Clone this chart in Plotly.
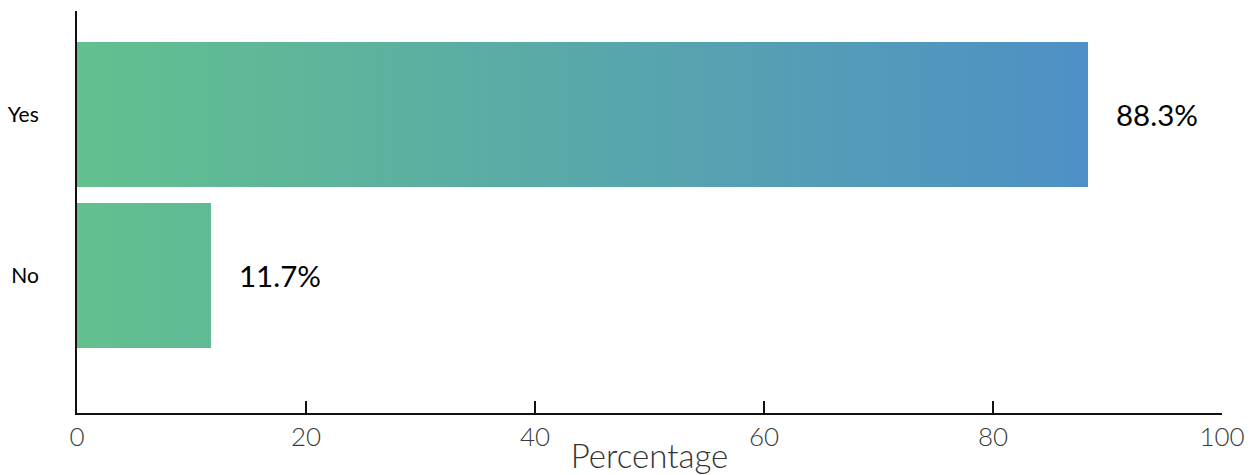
import plotly.graph_objects as go

# Survey answers and their share of respondents (%)
categories = ["No", "Yes"]
percentages = [11.7, 88.3]
x_ticks = [0, 20, 40, 60, 80, 100]

BAR_HALF = 0.45
GRAD_START = "#63c08e"
GRAD_END = "#4e90c6"

fig = go.Figure()

# Each bar is a filled rectangle whose fill follows a shared horizontal gradient
for i, (cat, val) in enumerate(zip(categories, percentages)):
    fig.add_trace(go.Scatter(
        x=[0, val, val, 0, 0],
        y=[i - BAR_HALF, i - BAR_HALF, i + BAR_HALF, i + BAR_HALF, i - BAR_HALF],
        mode="lines",
        line=dict(width=0),
        fill="toself",
        fillgradient=dict(
            type="horizontal",
            start=0,
            stop=max(percentages),
            colorscale=[[0, GRAD_START], [1, GRAD_END]],
        ),
        name=cat,
        hoverinfo="skip",
        showlegend=False,
    ))
    fig.add_annotation(
        x=val, y=i, text=f"{val}%",
        xanchor="left", yanchor="middle", xshift=26,
        showarrow=False,
        font=dict(family="Lato", size=29.5, color="#000000"),
    )

fig.update_layout(
    width=1254, height=475,
    margin=dict(l=77, r=32, t=11, b=62),
    paper_bgcolor="white", plot_bgcolor="white",
    xaxis=dict(
        range=[0, 100],
        automargin=False,
        tickvals=x_ticks,
        ticktext=[str(t) for t in x_ticks],
        showgrid=False, zeroline=False,
        showline=True, linecolor="#111111", linewidth=2,
        ticks="inside", ticklen=12, tickwidth=2, tickcolor="#111111",
        tickfont=dict(family="Lato", size=26, color="#3a3a3a", weight=300),
        title=dict(text="Percentage", standoff=0,
                   font=dict(family="Lato", size=33, color="#333333", weight=300)),
    ),
    yaxis=dict(
        range=[-0.854, 1.643],
        automargin=False,
        tickvals=list(range(len(categories))),
        ticktext=categories,
        showgrid=False, zeroline=False,
        showline=True, linecolor="#111111", linewidth=2,
        ticks="", ticklabelstandoff=32,
        tickfont=dict(family="Lato", size=21, color="#000000"),
    ),
)

fig.write_html("out.html")
